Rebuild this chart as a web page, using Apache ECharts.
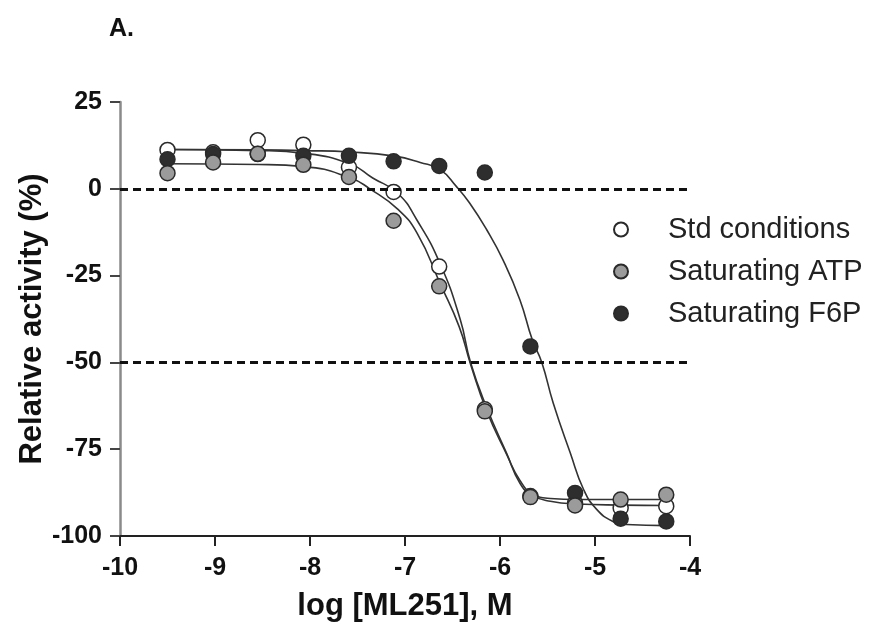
<!DOCTYPE html>
<html>
<head>
<meta charset="utf-8">
<script src="https://cdn.jsdelivr.net/npm/echarts@6/dist/echarts.min.js"></script>
<style>
  html, body { margin: 0; padding: 0; background: #fff; }
  #chart { width: 878px; height: 627px; }
</style>
</head>
<body>
<div id="chart"></div>
<script>
// log concentration of ML251 (half-log, 3-fold dilutions)
const concLog = [-9.50, -9.02, -8.55, -8.07, -7.59, -7.12, -6.64, -6.16, -5.68, -5.21, -4.73, -4.25]

// measured points, relative activity (%)
const stdVals = [11.2, 10.5, 14.0, 12.7, 6.2, -0.9, -22.4, -63.5, -88.5, -90.5, -91.9, -91.4]
const atpVals = [4.5, 7.6, 10.1, 6.9, 3.4, -9.2, -28.1, -64.1, -88.8, -91.2, -89.5, -88.1]
const f6pVals = [8.5, 10.0, 10.0, 9.5, 9.5, 7.9, 6.6, 4.7, -45.4, -87.6, -95.0, -95.8]

// fitted curves
const stdFitX = [-9.50, -8.54, -8.06, -7.58, -7.34, -7.08, -6.87, -6.63, -6.42, -6.31, -6.14, -5.93, -5.79, -5.66, -5.47, -5.19, -4.72, -4.25]
const stdFitY = [11.3, 11.0, 10.2, 7.2, 3.1, -1.2, -9.2, -21.6, -37.5, -50.0, -63.0, -76.2, -84.8, -88.3, -90.0, -90.8, -91.1, -91.2]
const atpFitX = [-9.50, -8.54, -8.06, -7.58, -7.37, -7.08, -6.87, -6.63, -6.43, -6.31, -6.14, -5.93, -5.79, -5.66, -5.47, -5.19, -4.25]
const atpFitY = [7.2, 7.0, 6.4, 3.2, 0.0, -5.8, -12.9, -27.3, -39.7, -50.5, -64.0, -76.5, -84.0, -87.8, -89.2, -89.5, -89.5]
const f6pFitX = [-9.50, -8.54, -8.06, -7.58, -7.11, -6.84, -6.63, -6.46, -6.32, -6.14, -5.97, -5.79, -5.66, -5.56, -5.44, -5.26, -5.12, -4.98, -4.81, -4.67, -4.25]
const f6pFitY = [11.3, 11.2, 11.0, 10.6, 9.4, 7.6, 5.5, 0.7, -4.1, -11.8, -20.4, -32.0, -43.5, -50.0, -61.7, -76.1, -86.6, -92.4, -95.8, -96.7, -97.0]

// reference lines
const refLines = [0, -50]

const xTicks = { min: -10, max: -4, interval: 1 }
const yTicks = { min: -100, max: 25, interval: 25 }

const font = 'Liberation Sans, Arial, Helvetica, sans-serif'

const pairs = (xs, ys) => xs.map((x, i) => [x, ys[i]])

const chart = echarts.init(document.getElementById('chart'), null, { renderer: 'canvas' })

const scatter = (name, vals, fill, z) => ({
  name: name,
  type: 'scatter',
  data: pairs(concLog, vals),
  symbol: 'circle',
  symbolSize: 15,
  z: z,
  itemStyle: { color: fill, borderColor: '#2a2a2a', borderWidth: 1.5, opacity: 1 }
})

const fit = (name, xs, ys) => ({
  name: name,
  type: 'line',
  data: pairs(xs, ys),
  showSymbol: false,
  smooth: 0.5,
  z: 2,
  silent: true,
  lineStyle: { color: '#333', width: 1.6 }
})

const option = {
  animation: false,
  backgroundColor: '#fff',
  title: {
    text: 'A.',
    left: 104,
    top: 12,
    textStyle: { fontFamily: font, fontSize: 25, fontWeight: 'bold', color: '#111' }
  },
  legend: {
    data: ['Std conditions', 'Saturating ATP', 'Saturating F6P'],
    orient: 'vertical',
    left: 608,
    top: 210,
    icon: 'circle',
    itemWidth: 14,
    itemHeight: 14,
    itemGap: 13,
    textStyle: { fontFamily: font, fontSize: 29, color: '#222', padding: [0, 0, 0, 35] }
  },
  grid: { left: 120, right: 188, top: 102, bottom: 91 },
  xAxis: {
    type: 'value',
    min: xTicks.min,
    max: xTicks.max,
    interval: xTicks.interval,
    name: 'log [ML251], M',
    nameLocation: 'middle',
    nameGap: 55,
    nameMoveOverlap: false,
    nameTextStyle: { fontFamily: font, fontSize: 31, fontWeight: 'bold', color: '#111' },
    axisLine: { onZero: false, lineStyle: { color: '#222', width: 2 } },
    axisTick: { length: 10, lineStyle: { color: '#222', width: 2 } },
    axisLabel: { margin: 20, fontFamily: font, fontSize: 25, fontWeight: 'bold', color: '#111' },
    splitLine: { show: false }
  },
  yAxis: {
    type: 'value',
    min: yTicks.min,
    max: yTicks.max,
    interval: yTicks.interval,
    name: 'Relative activity (%)',
    nameLocation: 'middle',
    nameGap: 72,
    nameMoveOverlap: false,
    nameTextStyle: { fontFamily: font, fontSize: 31, fontWeight: 'bold', color: '#111' },
    axisLine: { show: true, onZero: false, lineStyle: { color: '#8a8a8a', width: 2.5 } },
    axisTick: { show: true, length: 10, lineStyle: { color: '#444', width: 2 } },
    axisLabel: { margin: 18, fontFamily: font, fontSize: 25, fontWeight: 'bold', color: '#111' },
    splitLine: { show: false }
  },
  series: [
    fit('Std fit', stdFitX, stdFitY),
    fit('ATP fit', atpFitX, atpFitY),
    fit('F6P fit', f6pFitX, f6pFitY),
    {
      name: 'ref',
      type: 'line',
      data: [],
      silent: true,
      markLine: {
        silent: true,
        symbol: 'none',
        label: { show: false },
        lineStyle: { color: '#111', width: 3, type: [8, 5] },
        data: refLines.map(v => ({ yAxis: v }))
      }
    },
    scatter('Std conditions', stdVals, '#ffffff', 3),
    scatter('Saturating F6P', f6pVals, '#2e2e2e', 4),
    scatter('Saturating ATP', atpVals, '#9b9b9b', 5)
  ]
}

chart.setOption(option)
</script>
</body>
</html>
